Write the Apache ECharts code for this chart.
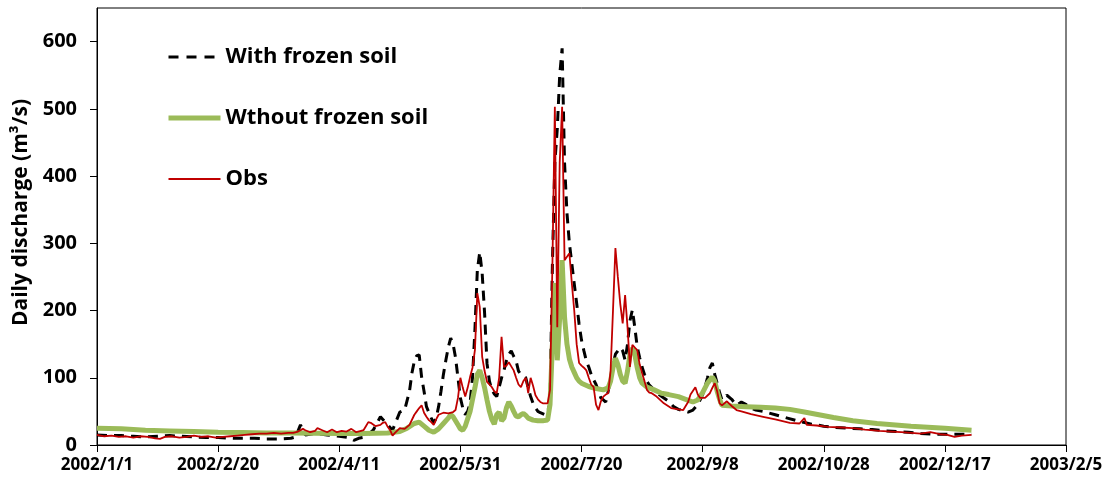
<!DOCTYPE html>
<html>
<head>
<meta charset="utf-8">
<script src="https://cdn.jsdelivr.net/npm/echarts@6/dist/echarts.min.js"></script>
<style>
html,body{margin:0;padding:0;background:#fff;}
#chart{width:1106px;height:484px;}
</style>
</head>
<body>
<div id="chart"></div>
<script>
// Day offsets from 2002/1/1 and daily discharge (m3/s)
const xTickLabels = ["2002/1/1","2002/2/20","2002/4/11","2002/5/31","2002/7/20","2002/9/8","2002/10/28","2002/12/17","2003/2/5"];
const yTickValues = [0,100,200,300,400,500,600];
const seriesNames = ["With frozen soil","Wthout frozen soil","Obs"];

const withDays = [0,5,10,15,20,25,30,35,40,45,50,55,60,65,70,75,80,82,84,86,90,95,100,104,106,108,111,114,117,118,120,122,124,125,127,129,130,131,132,133,134,135,136,138,139,140,141,142,143,144,145,146,147,148,149,150,151,152,153,154,155,156,157,158,159,160,161,162,163,164,165,166,167,168,169,170,171,172,173,174,175,176,177,178,179,180,181,182,183,185,186,187,188,189,190,191,192,193,194,195,196,197,198,199,200,201,202,203,204,205,206,207,208,209,210,211,212,213,214,215,216,217,218,219,220,221,222,223,224,225,226,227,228,230,232,234,236,238,240,242,244,246,248,250,251,252,253,254,255,256,257,258,259,260,262,264,266,268,270,272,275,280,285,290,295,300,305,310,315,320,325,330,335,340,345,350,355,361];
const withVals = [15,14,14,13,12,13,14,13,12,11,11,10,10,10,9,9,10,12,30,15,17,15,13,11,7,10,12,22,42,38,30,22,40,49,52,80,107,125,133,134,101,80,57,40,33,40,57,80,105,126,145,159,150,130,100,70,55,45,50,62,100,171,260,287,255,196,121,95,82,76,72,86,100,111,125,135,140,132,125,110,105,103,100,85,72,62,55,50,48,45,50,62,270,420,470,550,590,420,345,300,270,240,211,180,156,140,125,116,105,97,90,80,70,67,64,80,97,120,135,140,145,140,126,150,185,201,175,146,130,116,105,95,89,82,75,70,65,57,53,51,49,52,60,75,86,100,115,122,105,92,78,67,70,74,68,59,64,60,55,52,50,45,40,35,31,28,26,25,24,23,21,20,19,17,16,16,16,16];

const woDays = [0,10,20,30,40,50,60,70,80,90,100,110,120,125,128,131,133,135,137,139,141,143,145,146,147,149,150,151,152,154,156,157,158,159,160,161,162,163,164,165,166,167,168,169,170,171,172,173,174,175,176,177,178,180,182,184,186,187,188,189,190,191,192,193,194,195,196,197,198,199,200,203,206,209,211,212,213,214,215,216,217,218,219,220,221,222,223,224,225,227,230,233,236,240,243,246,248,250,252,254,255,256,257,258,262,268,274,280,286,292,298,304,312,322,336,350,361];
const woVals = [25,24,22,21,20,19,18.5,18,18,17.5,17,17,18,20,25,32,34,28,22,19,24,32,40,45,42,30,24,22,28,50,85,105,111,100,85,67,50,38,31,45,49,36,40,55,64,58,50,43,42,45,47,44,40,37,36,36,37,60,150,241,126,190,275,190,150,128,116,108,100,95,92,87,84,82,85,95,115,129,120,105,95,92,110,135,144,135,115,100,92,86,82,77,75,72,68,64,67,78,92,101,95,80,68,59,58,57,56,55,53,49,45,41,36,32,28,25,22];

const obsDays = [0,3,6,9,12,15,18,21,24,26,28,31,34,37,40,43,46,49,52,55,58,61,64,67,70,73,76,79,81,83,85,86,88,90,91,93,95,97,99,101,103,105,107,109,110,111,112,113,115,117,118,119,120,121,122,123,125,127,129,131,132,133,134,135,136,137,138,139,140,141,143,145,147,148,149,150,151,152,153,154,155,156,157,158,159,160,161,162,163,164,165,166,167,168,169,170,171,172,173,174,175,176,177,178,179,180,181,182,183,184,186,187,188,189,190,191,192,193,194,195,196,197,198,199,200,201,202,203,204,205,206,207,208,209,210,211,212,213,214,215,216,217,218,219,220,221,222,223,224,225,226,227,228,229,231,234,237,240,242,244,245,247,248,249,251,253,254,255,256,257,258,260,262,264,266,270,275,280,286,290,292,293,297,302,307,312,317,323,328,332,336,340,344,348,351,354,357,361];
const obsVals = [15,13,14,12,13,11,13,12,10,9,12,13,11,12,14,12,13,11,12,13,14,15,16,17,17,18,17,18,18,20,24,22,19,21,25,22,19,23,19,21,20,24,19,21,22,28,34,33,28,30,33,34,27,22,14,18,25,24,30,45,50,55,59,48,42,37,34,30,38,45,48,47,49,52,70,100,85,72,85,101,115,141,226,205,131,110,94,90,86,80,77,100,161,116,118,123,117,111,100,90,86,95,100,77,100,88,74,68,64,62,62,82,270,503,175,420,503,275,280,285,241,200,150,122,118,115,111,100,90,86,60,52,65,72,75,77,110,200,293,250,210,181,223,175,116,149,145,141,120,107,95,82,78,77,72,62,55,53,52,64,75,86,75,70,70,77,85,92,80,62,59,65,58,52,50,46,42,38,33,32,40,30,29,27,26,25,23,21,20,19,18,17,19,16,15,12,14,15];

function pairs(days, vals){ return days.map((d,i)=>[d, vals[i]]); }

const FONT = "'Open Sans', 'Noto Sans', sans-serif";
const chart = echarts.init(document.getElementById('chart'), null, {renderer:'canvas'});
chart.setOption({
  animation:false,
  backgroundColor:'#fff',
  grid:{left:97, right:40, top:8, bottom:39, show:true, borderColor:'#000', borderWidth:1, backgroundColor:'transparent'},
  legend:{
    orient:'vertical', left:166, top:45, padding:0, itemWidth:52, itemHeight:14, itemGap:37,
    data:[
      {name:seriesNames[0], lineStyle:{width:3, type:[10,8], color:'#000'}},
      {name:seriesNames[1], lineStyle:{width:5, color:'#9BBB59'}},
      {name:seriesNames[2], lineStyle:{width:1.8, color:'#C00000'}}
    ],
    itemStyle:{opacity:0},
    textStyle:{fontFamily:FONT, fontWeight:'bold', fontSize:22, color:'#000', lineHeight:24}
  },
  xAxis:{
    type:'value', min:0, max:400, interval:50,
    axisLine:{show:true, lineStyle:{color:'#000', width:1}},
    axisTick:{show:true, inside:false, length:7, lineStyle:{color:'#000'}},
    splitLine:{show:false},
    axisLabel:{margin:12, fontFamily:FONT, fontWeight:'bold', fontSize:17, color:'#000',
      formatter:function(v){ return xTickLabels[Math.round(v/50)]; }}
  },
  yAxis:{
    type:'value', min:0, max:650, interval:100,
    name:'Daily discharge (m³/s)', nameLocation:'middle', nameGap:64,
    nameTextStyle:{fontFamily:FONT, fontWeight:'bold', fontSize:21, color:'#000', padding:[0,0,0,28]},
    axisLine:{show:true, lineStyle:{color:'#000', width:1}},
    axisTick:{show:true, inside:false, length:7, lineStyle:{color:'#000'}, customValues:yTickValues},
    splitLine:{show:false},
    axisLabel:{margin:20, fontFamily:FONT, fontWeight:'bold', fontSize:20, color:'#000', customValues:yTickValues}
  },
  series:[
    {name:seriesNames[0], type:'line', data:pairs(withDays, withVals), symbol:'none', z:2,
     lineStyle:{color:'#000', width:3, type:[10,7]}, itemStyle:{color:'#000'}},
    {name:seriesNames[1], type:'line', data:pairs(woDays, woVals), symbol:'none', z:3,
     lineStyle:{color:'#9BBB59', width:5}, itemStyle:{color:'#9BBB59'}},
    {name:seriesNames[2], type:'line', data:pairs(obsDays, obsVals), symbol:'none', z:4,
     lineStyle:{color:'#C00000', width:1.8}, itemStyle:{color:'#C00000'}}
  ]
});
</script>
</body>
</html>
